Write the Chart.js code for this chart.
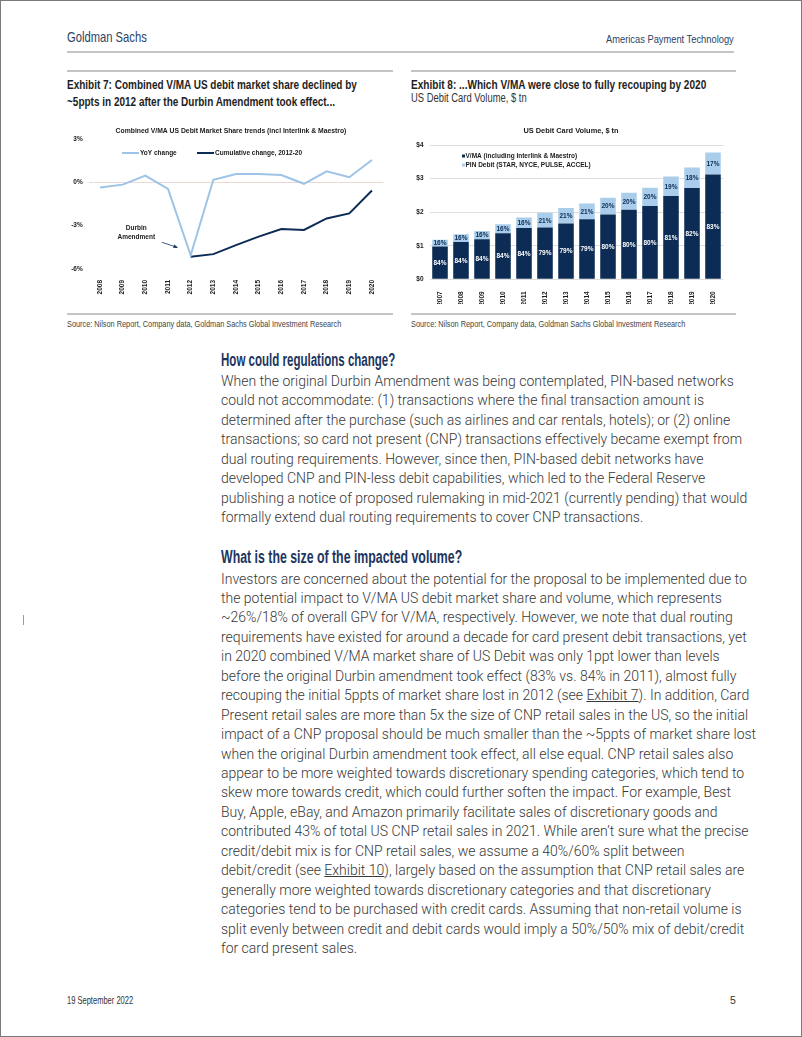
<!DOCTYPE html>
<html lang="en">
<head>
<meta charset="UTF-8">
<title>Americas Payment Technology - p5</title>
<script src="https://cdn.jsdelivr.net/npm/chart.js@4.4.0/dist/chart.umd.min.js"></script>
<style>
  html, body { margin: 0; padding: 0; background: #fff; }
  .page { position: relative; width: 800px; height: 1035px; border: 1px solid #7a7a7a; overflow: hidden; }
  .abs { position: absolute; white-space: nowrap; }
  .narrow { font-family: "Liberation Sans", Arial, sans-serif; transform-origin: left top; }
  .rule { position: absolute; height: 2px; background: #c4c4c4; }
  .hdr-l { left: 66px; top: 27px; font-size: 15px; color: #2b4466; }
  .hdr-r { left: 605px; top: 32px; font-size: 11.5px; color: #2b4466; }
  .ex-title { font-size: 13.5px; font-weight: bold; color: #1e1e1e; line-height: 17px; }
  .ex-sub { font-size: 12.5px; color: #333; }
  .src { font-size: 9.5px; color: #444; }
  .chartbox { position: absolute; }
  .head { left: 220px; font-size: 17.5px; font-weight: bold; color: #1c355e; }
  .para { left: 220px; font-family: Roboto, "Liberation Sans", sans-serif; font-weight: 300;
          font-size: 14px; line-height: 19.45px; color: #383838; }
  .para u { text-decoration: underline; }
  .foot { font-size: 10.5px; color: #333; }
</style>
</head>
<body>
<div class="page">
  <div class="abs narrow hdr-l" data-w="80">Goldman Sachs</div>
  <div class="abs narrow hdr-r" data-w="128">Americas Payment Technology</div>
  <div class="rule" style="left:66px; top:50px; width:667px;"></div>

  <div class="rule" style="left:66px; top:69px; width:326px;"></div>
  <div class="rule" style="left:410px; top:69px; width:325px;"></div>

  <div class="abs narrow ex-title" data-w="290" style="left:66px; top:75px;">Exhibit 7: Combined V/MA US debit market share declined by<br>~5ppts in 2012 after the Durbin Amendment took effect...</div>
  <div class="abs narrow ex-title" data-w="295" style="left:410px; top:75px;">Exhibit 8: ...Which V/MA were close to fully recouping by 2020</div>
  <div class="abs narrow ex-sub" data-w="116" style="left:410px; top:90px;">US Debit Card Volume, $ tn</div>

  <div class="chartbox" style="left:66px; top:108px; width:325px; height:195px;"><canvas id="shareChart"></canvas></div>
  <div class="chartbox" style="left:410px; top:108px; width:324px; height:195px;"><canvas id="volumeChart"></canvas></div>

  <div class="rule" style="left:66px; top:312px; width:326px;"></div>
  <div class="rule" style="left:410px; top:312px; width:325px;"></div>
  <div class="abs narrow src" data-w="274" style="left:66px; top:317px;">Source: Nilson Report, Company data, Goldman Sachs Global Investment Research</div>
  <div class="abs narrow src" data-w="274" style="left:410px; top:317px;">Source: Nilson Report, Company data, Goldman Sachs Global Investment Research</div>

  <div class="abs narrow head" data-w="174" style="top:349px;">How could regulations change?</div>
  <div class="abs para" style="top:371px;">When the original Durbin Amendment was being contemplated, PIN-based networks<br>could not accommodate: (1) transactions where the final transaction amount is<br>determined after the purchase (such as airlines and car rentals, hotels); or (2) online<br>transactions; so card not present (CNP) transactions effectively became exempt from<br>dual routing requirements. However, since then, PIN-based debit networks have<br>developed CNP and PIN-less debit capabilities, which led to the Federal Reserve<br>publishing a notice of proposed rulemaking in mid-2021 (currently pending) that would<br>formally extend dual routing requirements to cover CNP transactions.</div>

  <div class="abs narrow head" data-w="241" style="top:546px;">What is the size of the impacted volume?</div>
  <div class="abs para" style="top:568.5px;">Investors are concerned about the potential for the proposal to be implemented due to<br>the potential impact to V/MA US debit market share and volume, which represents<br>~26%/18% of overall GPV for V/MA, respectively. However, we note that dual routing<br>requirements have existed for around a decade for card present debit transactions, yet<br>in 2020 combined V/MA market share of US Debit was only 1ppt lower than levels<br>before the original Durbin amendment took effect (83% vs. 84% in 2011), almost fully<br>recouping the initial 5ppts of market share lost in 2012 (see <u>Exhibit 7</u>). In addition, Card<br>Present retail sales are more than 5x the size of CNP retail sales in the US, so the initial<br>impact of a CNP proposal should be much smaller than the ~5ppts of market share lost<br>when the original Durbin amendment took effect, all else equal. CNP retail sales also<br>appear to be more weighted towards discretionary spending categories, which tend to<br>skew more towards credit, which could further soften the impact. For example, Best<br>Buy, Apple, eBay, and Amazon primarily facilitate sales of discretionary goods and<br>contributed 43% of total US CNP retail sales in 2021. While aren’t sure what the precise<br>credit/debit mix is for CNP retail sales, we assume a 40%/60% split between<br>debit/credit (see <u>Exhibit 10</u>), largely based on the assumption that CNP retail sales are<br>generally more weighted towards discretionary categories and that discretionary<br>categories tend to be purchased with credit cards. Assuming that non-retail volume is<br>split evenly between credit and debit cards would imply a 50%/50% mix of debit/credit<br>for card present sales.</div>

  <div style="position:absolute; left:22px; top:614px; width:1px; height:10px; background:#9a9a9a;"></div>

  <div class="abs narrow foot" data-w="66" style="left:66px; top:993px;">19 September 2022</div>
  <div class="abs narrow foot" style="left:729px; top:993px;">5</div>
</div>

<script>
// Exhibit 7 - market share change (%)
var shareYears = ['2008','2009','2010','2011','2012','2013','2014','2015','2016','2017','2018','2019','2020'];
var yoyChange = [-0.35, -0.16, 0.46, -0.46, -5.05, 0.18, 0.58, 0.58, 0.5, -0.1, 0.76, 0.35, 1.55];
var cumChange = [null, null, null, null, -5.15, -4.97, -4.35, -3.76, -3.23, -3.3, -2.5, -2.15, -0.57];

// Exhibit 8 - US debit card volume ($ tn)
var volYears = ['2007','2008','2009','2010','2011','2012','2013','2014','2015','2016','2017','2018','2019','2020'];
var vmaVolume = [0.98, 1.11, 1.19, 1.37, 1.53, 1.54, 1.66, 1.79, 1.93, 2.07, 2.18, 2.48, 2.72, 3.12];
var pinVolume = [0.20, 0.23, 0.25, 0.27, 0.31, 0.44, 0.46, 0.47, 0.50, 0.51, 0.55, 0.58, 0.61, 0.66];
var vmaShareLbl = ['84%','84%','84%','84%','84%','79%','79%','79%','80%','80%','80%','81%','82%','83%'];
var pinShareLbl = ['16%','16%','16%','16%','16%','21%','21%','21%','20%','20%','20%','19%','18%','17%'];

var NAVY = '#0c2c55';
var LIGHT = '#a9cdeb';
var LINE_LIGHT = '#9dc3e6';
var FONT = '"Liberation Sans", Arial, sans-serif';

// squeeze the condensed-style headings to the widths of the original
document.querySelectorAll('[data-w]').forEach(function(el) {
  var w = el.scrollWidth;
  var target = parseFloat(el.getAttribute('data-w'));
  el.style.transform = 'scaleX(' + (target / w) + ')';
});

Chart.defaults.font.family = FONT;
Chart.defaults.color = '#1a1a1a';
Chart.defaults.animation = false;

// chart title, legend and annotation text drawn on canvas
var extras = {
  id: 'extras',
  afterDraw: function(chart, args, opts) {
    var ctx = chart.ctx;
    ctx.save();
    ctx.font = 'bold ' + opts.titleSize + 'px ' + FONT;
    ctx.fillStyle = '#1a1a1a';
    ctx.textAlign = 'center';
    ctx.textBaseline = 'middle';
    ctx.fillText(opts.title, opts.titleX, opts.titleY);
    if (opts.draw) opts.draw(chart, ctx);
    ctx.restore();
  }
};

new Chart(document.getElementById('shareChart'), {
  type: 'line',
  data: {
    labels: shareYears,
    datasets: [
      { label: 'YoY change', data: yoyChange, borderColor: LINE_LIGHT, borderWidth: 2, pointRadius: 0, tension: 0 },
      { label: 'Cumulative change, 2012-20', data: cumChange, borderColor: NAVY, borderWidth: 2, pointRadius: 0, tension: 0 }
    ]
  },
  options: {
    responsive: true,
    maintainAspectRatio: false,
    layout: { padding: { top: 30, right: 8.7, bottom: 0, left: 0 } },
    plugins: {
      legend: { display: false },
      tooltip: { enabled: false },
      extras: {
        title: 'Combined V/MA US Debit Market Share trends (incl Interlink & Maestro)',
        titleSize: 6.8, titleX: 164, titleY: 22,
        draw: function(chart, ctx) {
          var xs = chart.scales.x, ys = chart.scales.y;
          ctx.font = 'bold 6.5px ' + FONT;
          ctx.textAlign = 'left';
          ctx.lineWidth = 2;
          var ly = 44;
          ctx.strokeStyle = LINE_LIGHT;
          ctx.beginPath(); ctx.moveTo(55, ly); ctx.lineTo(72, ly); ctx.stroke();
          ctx.fillText('YoY change', 73, ly);
          ctx.strokeStyle = NAVY;
          ctx.beginPath(); ctx.moveTo(130, ly); ctx.lineTo(147, ly); ctx.stroke();
          ctx.fillText('Cumulative change, 2012-20', 148, ly);
          // Durbin annotation
          ctx.textAlign = 'center';
          var tx = xs.getPixelForValue(1.6);
          ctx.fillText('Durbin', tx, ys.getPixelForValue(-3.2));
          ctx.fillText('Amendment', tx, ys.getPixelForValue(-3.8));
          var x0 = xs.getPixelForValue(2.73), y0 = ys.getPixelForValue(-4.15);
          var x1 = xs.getPixelForValue(3.4), y1 = ys.getPixelForValue(-4.5);
          ctx.strokeStyle = '#3f5f85';
          ctx.fillStyle = '#1c355e';
          ctx.lineWidth = 1;
          ctx.beginPath(); ctx.moveTo(x0, y0); ctx.lineTo(x1, y1); ctx.stroke();
          var a = Math.atan2(y1 - y0, x1 - x0);
          ctx.beginPath();
          ctx.moveTo(x1 + 1, y1 + 0.5);
          ctx.lineTo(x1 - 4 * Math.cos(a - 0.5), y1 - 4 * Math.sin(a - 0.5));
          ctx.lineTo(x1 - 4 * Math.cos(a + 0.5), y1 - 4 * Math.sin(a + 0.5));
          ctx.closePath(); ctx.fill();
        }
      }
    },
    scales: {
      x: {
        offset: true,
        grid: { display: false },
        border: { display: false },
        ticks: { minRotation: 90, maxRotation: 90, padding: 3, font: { size: 6.5, weight: 'bold' } },
        afterFit: function(s) { s.height = 35; }
      },
      y: {
        min: -6, max: 3,
        ticks: { stepSize: 3, padding: 6, font: { size: 6.5, weight: 'bold' }, callback: function(v) { return v + '%'; } },
        grid: { drawTicks: false, color: function(c) { return c.tick && c.tick.value === 0 ? '#ead9d5' : 'rgba(0,0,0,0)'; } },
        border: { display: false },
        afterFit: function(s) { s.width = 21.7; }
      }
    }
  },
  plugins: [extras]
});

new Chart(document.getElementById('volumeChart'), {
  type: 'bar',
  data: {
    labels: volYears,
    datasets: [
      { label: 'V/MA (including Interlink & Maestro)', data: vmaVolume, backgroundColor: NAVY, shareLabels: vmaShareLbl, labelColor: '#ffffff' },
      { label: 'PIN Debit (STAR, NYCE, PULSE, ACCEL)', data: pinVolume, backgroundColor: LIGHT, shareLabels: pinShareLbl, labelColor: '#0c2c55' }
    ]
  },
  options: {
    responsive: true,
    maintainAspectRatio: false,
    layout: { padding: { top: 36, right: 11.5, bottom: 0, left: 0 } },
    datasets: { bar: { barPercentage: 0.74, categoryPercentage: 1 } },
    plugins: {
      legend: { display: false },
      tooltip: { enabled: false },
      extras: {
        title: 'US Debit Card Volume, $ tn',
        titleSize: 7.4, titleX: 160, titleY: 22,
        draw: function(chart, ctx) {
          ctx.font = 'bold 6.5px ' + FONT;
          ctx.textAlign = 'left';
          ctx.fillStyle = NAVY;
          ctx.fillRect(51, 45.5, 3, 3);
          ctx.fillStyle = '#1a1a1a';
          ctx.fillText('V/MA (including Interlink & Maestro)', 54.5, 47);
          ctx.fillStyle = LIGHT;
          ctx.fillRect(51, 54.5, 3, 3);
          ctx.fillStyle = '#1a1a1a';
          ctx.fillText('PIN Debit (STAR, NYCE, PULSE, ACCEL)', 54.5, 56);
          // share labels centred in each bar segment
          ctx.textAlign = 'center';
          chart.data.datasets.forEach(function(ds, di) {
            var meta = chart.getDatasetMeta(di);
            ctx.fillStyle = ds.labelColor;
            meta.data.forEach(function(el, i) {
              ctx.fillText(ds.shareLabels[i], el.x, (el.y + el.base) / 2 + 0.5);
            });
          });
        }
      }
    },
    scales: {
      x: {
        stacked: true,
        grid: { display: false },
        border: { display: false },
        ticks: { minRotation: 90, maxRotation: 90, padding: 4, font: { size: 6.5, weight: 'bold' } },
        afterFit: function(s) { s.height = 24.7; }
      },
      y: {
        stacked: true,
        min: 0, max: 4,
        ticks: { stepSize: 1, padding: 6, font: { size: 6.5, weight: 'bold' }, callback: function(v) { return '$' + v; } },
        grid: { drawTicks: false, color: '#dedede', lineWidth: 1 },
        border: { display: false },
        afterFit: function(s) { s.width = 18.5; }
      }
    }
  },
  plugins: [extras]
});
</script>
</body>
</html>
